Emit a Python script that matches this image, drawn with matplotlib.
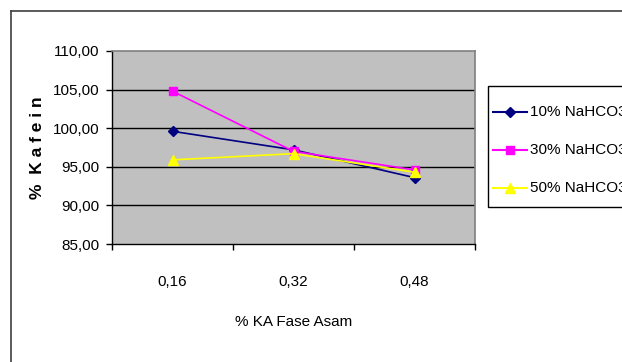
import matplotlib
matplotlib.use("Agg")
import matplotlib.pyplot as plt
from matplotlib.lines import Line2D
from matplotlib.patches import Rectangle

plt.rcParams['font.family'] = ['Liberation Sans', 'DejaVu Sans']

categories = ["0,16", "0,32", "0,48"]
series_labels = ["10% NaHCO3", "30% NaHCO3", "50% NaHCO3"]
kafein_10 = [99.6, 97.2, 93.6]
kafein_30 = [104.8, 97.0, 94.6]
kafein_50 = [95.9, 96.7, 94.3]
y_ticks = [85, 90, 95, 100, 105, 110]

W, H = 622, 362
fig = plt.figure(figsize=(W / 100, H / 100), dpi=100)


def fx(px):
    return px / W


def fy(py):
    return 1 - py / H


# outer chart frame (left + top edges visible)
fig.add_artist(Line2D([fx(11), fx(11)], [0, fy(11)], color="#404040", lw=1.2))
fig.add_artist(Line2D([fx(11), 1], [fy(11), fy(11)], color="#404040", lw=1.2))

ax = fig.add_axes([fx(112), fy(244), fx(475 - 112), (244 - 51) / H])
ax.set_facecolor("#C0C0C0")

x = list(range(len(categories)))
styles = [
    (kafein_10, "#000080", "D", 5),
    (kafein_30, "#FF00FF", "s", 6),
    (kafein_50, "#FFFF00", "^", 7),
]
for (vals, col, mk, ms), lab in zip(styles, series_labels):
    ax.plot(x, vals, color=col, marker=mk, markersize=ms, lw=1.2,
            markeredgecolor=col, label=lab)

ax.set_xlim(-0.5, 2.5)
ax.set_ylim(85, 110)
ax.set_yticks(y_ticks)
ax.set_yticklabels([f"{v:.2f}".replace(".", ",") for v in y_ticks], fontsize=11)
for v in y_ticks[1:-1]:
    ax.axhline(v, color="black", lw=1.0, zorder=1)

ax.set_xticks(x)
ax.set_xticklabels(categories, fontsize=11)
ax.set_xticks([-0.5, 0.5, 1.5, 2.5], minor=True)
ax.tick_params(axis="x", which="major", length=0, pad=22)
ax.tick_params(axis="x", which="minor", length=4, width=1, color="black")
ax.tick_params(axis="y", length=4, width=1, pad=5, color="black")

for s in ["top", "right"]:
    ax.spines[s].set_color("#808080")
    ax.spines[s].set_linewidth(1.2)
for s in ["left", "bottom"]:
    ax.spines[s].set_color("black")
    ax.spines[s].set_linewidth(1.0)

ax.set_xlabel("% KA Fase Asam", fontsize=11, labelpad=19)
fig.text(fx(38), fy(148), "%  K a f e i n", rotation=90, fontsize=12.5,
         fontweight="bold", ha="center", va="center")

# legend box, cut by the right edge like the original
fig.add_artist(Rectangle((fx(488), fy(207)), fx(150), (207 - 86) / H,
                         transform=fig.transFigure, facecolor="white",
                         edgecolor="black", lw=1.0))
for i, ((vals, col, mk, ms), lab) in enumerate(zip(styles, series_labels)):
    yy = fy(111.7 + 38.2 * i)
    fig.add_artist(Line2D([fx(493), fx(527)], [yy, yy], color=col, lw=1.5))
    fig.add_artist(Line2D([fx(510)], [yy], color=col, marker=mk, markersize=ms,
                          markeredgecolor=col))
    fig.text(fx(530), yy, lab, fontsize=11, ha="left", va="center")

fig.savefig("out.png", dpi=100)
